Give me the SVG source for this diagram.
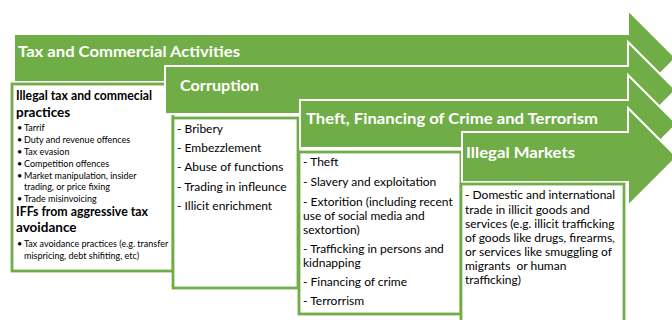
<svg xmlns="http://www.w3.org/2000/svg" width="672" height="320" viewBox="0 0 672 320">
  <style>
    .arrow { fill: #70AD47; stroke: #FFFFFF; stroke-width: 2; stroke-linejoin: miter; }
    .box { fill: #FFFFFF; stroke: #70AD47; stroke-width: 2.8; }
    .title { font-family: Lato, "Open Sans", "Liberation Sans", sans-serif; font-weight: bold; font-size: 15.5px; fill: #FFFFFF; }
    .head { font-family: Lato, "Open Sans", "Liberation Sans", sans-serif; font-weight: bold; font-size: 13.5px; fill: #000000; }
    .small { font-family: Lato, "Open Sans", "Liberation Sans", sans-serif; font-size: 9px; fill: #000000; }
    .body { font-family: Lato, "Open Sans", "Liberation Sans", sans-serif; font-size: 12px; fill: #000000; }
  </style>
  <rect width="672" height="320" fill="#FFFFFF"/>

  <!-- Stage 1: tax and commercial activities -->
  <g id="tax-commercial">
    <path class="arrow" d="M14,34 H628 V10 L676,58 L628,106 V82 H14 Z"/>
    <rect class="box" x="12" y="84" width="161" height="187"/>
    <text class="title" x="18" y="57" textLength="222" lengthAdjust="spacingAndGlyphs">Tax and Commercial Activities</text>
    <text class="head" x="16" y="100" textLength="136" lengthAdjust="spacingAndGlyphs">Illegal tax and commecial</text>
    <text class="head" x="16" y="117">practices</text>
    <g class="small">
      <text x="17" y="131">•</text><text x="24" y="131">Tarrif</text>
      <text x="17" y="143">•</text><text x="24" y="143">Duty and revenue offences</text>
      <text x="17" y="155">•</text><text x="24" y="155">Tax evasion</text>
      <text x="17" y="167">•</text><text x="24" y="167">Competition offences</text>
      <text x="17" y="179">•</text><text x="24" y="179">Market manipulation, insider</text>
      <text x="24" y="190">trading, or price fixing</text>
      <text x="17" y="202">•</text><text x="24" y="202">Trade misinvoicing</text>
    </g>
    <text class="head" x="16" y="216" textLength="132" lengthAdjust="spacingAndGlyphs">IFFs from aggressive tax</text>
    <text class="head" x="16" y="232">avoidance</text>
    <g class="small">
      <text x="17" y="247">•</text><text x="24" y="247">Tax avoidance practices (e.g. transfer</text>
      <text x="24" y="259">mispricing, debt shifiting, etc)</text>
    </g>
  </g>

  <!-- Stage 2: corruption -->
  <g id="corruption">
    <path class="arrow" d="M165,66 H628 V42 L676,90 L628,138 V114 H165 Z"/>
    <rect class="box" x="173" y="118" width="125" height="170"/>
    <text class="title" x="180" y="91" textLength="79" lengthAdjust="spacingAndGlyphs">Corruption</text>
    <g class="body">
      <text x="177" y="133">- Bribery</text>
      <text x="177" y="152">- Embezzlement</text>
      <text x="177" y="171">- Abuse of functions</text>
      <text x="177" y="191">- Trading in infleunce</text>
      <text x="177" y="210">- Illicit enrichment</text>
    </g>
  </g>

  <!-- Stage 3: theft, financing of crime and terrorism -->
  <g id="theft-crime-terrorism">
    <path class="arrow" d="M300,100 H628 V75 L677,124 L628,173 V148 H300 Z"/>
    <rect class="box" x="299" y="152" width="162" height="162"/>
    <text class="title" x="306" y="124" textLength="292" lengthAdjust="spacingAndGlyphs">Theft, Financing of Crime and Terrorism</text>
    <g class="body">
      <text x="303" y="166">- Theft</text>
      <text x="303" y="186">- Slavery and exploitation</text>
      <text x="303" y="206">- Extorition (including recent</text>
      <text x="303" y="220">use of social media and</text>
      <text x="303" y="234">sextortion)</text>
      <text x="303" y="253">- Trafficking in persons and</text>
      <text x="303" y="267">kidnapping</text>
      <text x="303" y="286">- Financing of crime</text>
      <text x="303" y="305">- Terrorrism</text>
    </g>
  </g>

  <!-- Stage 4: illegal markets -->
  <g id="illegal-markets">
    <path class="arrow" d="M462,132 H628 V108 L677,157 L628,206 V182 H462 Z"/>
    <rect class="box" x="461" y="184" width="163" height="140"/>
    <text class="title" x="466" y="158" textLength="109" lengthAdjust="spacingAndGlyphs">Illegal Markets</text>
    <g class="body">
      <text x="465" y="199">- Domestic and international</text>
      <text x="465" y="214">trade in illicit goods and</text>
      <text x="465" y="228">services (e.g. illicit trafficking</text>
      <text x="465" y="242">of goods like drugs, firearms,</text>
      <text x="465" y="256">or services like smuggling of</text>
      <text x="465" y="270" style="white-space:pre">migrants  or human</text>
      <text x="465" y="284">trafficking)</text>
    </g>
  </g>

  <g id="connectors"/>
</svg>
